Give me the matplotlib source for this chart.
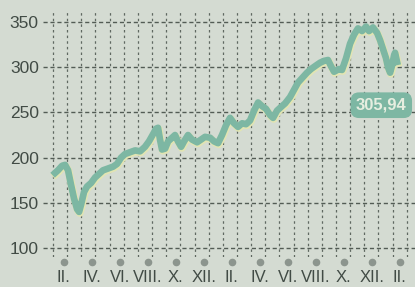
import matplotlib.pyplot as plt

# month index (0 = first gridline) and index value
months = [0.14, 0.35, 0.64, 0.85, 1.06, 1.27, 1.48, 1.70, 1.84, 1.98,
          2.19, 2.40, 2.69, 2.97, 3.25, 3.53, 3.89, 4.24, 4.52, 4.81,
          5.09, 5.44, 5.80, 6.15, 6.50, 6.78, 7.07, 7.28, 7.42, 7.56,
          7.70, 7.92, 8.13, 8.41, 8.62, 8.83, 9.05, 9.26, 9.54, 9.82,
          10.18, 10.46, 10.74, 11.10, 11.38, 11.66, 11.94, 12.23, 12.51, 12.79,
          13.07, 13.36, 13.64, 13.92, 14.21, 14.49, 14.77, 15.05, 15.34, 15.55,
          15.83, 16.11, 16.40, 16.75, 17.03, 17.31, 17.60, 17.95, 18.23, 18.59,
          18.87, 19.15, 19.43, 19.65, 19.86, 20.21, 20.42, 20.71, 20.99, 21.27,
          21.55, 21.84, 22.12, 22.33, 22.61, 22.90, 23.11, 23.32, 23.53, 23.67,
          23.82, 23.96, 24.10, 24.17, 24.31]
values = [183, 186, 191, 192, 186, 170, 155, 143, 140, 148,
          162, 168, 172, 178, 182, 186, 188, 190, 193, 200,
          204, 206, 208, 207, 212, 218, 226, 232, 233, 220,
          209, 210, 218, 222, 225, 218, 212, 218, 225, 220,
          217, 220, 223, 222, 218, 216, 225, 236, 244, 238,
          234, 238, 237, 241, 252, 261, 257, 254, 247, 244,
          252, 256, 260, 267, 275, 283, 288, 294, 298, 302,
          305, 307, 308, 301, 295, 298, 297, 310, 326, 336,
          343, 340, 345, 340, 344, 338, 330, 320, 310, 300,
          294, 302, 313, 316, 306]

last_value = "305,94"
yticks = [100, 150, 200, 250, 300, 350]
month_labels = ["II.", "IV.", "VI.", "VIII.", "X.", "XII.",
                "II.", "IV.", "VI.", "VIII.", "X.", "XII.", "II."]
label_pos = [0.75 + 1.98 * i for i in range(len(month_labels))]

font = "Liberation Sans"
paper = "#d4dbd2"
ink = "#414b45"
teal = "#7db7a3"

fig = plt.figure(figsize=(4.15, 2.87), dpi=100, facecolor=paper)
ax = fig.add_axes([43 / 415, 30 / 287, 372 / 415, 245 / 287])
ax.set_facecolor(paper)
ax.set_xlim(-0.71, 25.58)
ax.set_ylim(90.1, 361.1)
for s in ax.spines.values():
    s.set_visible(False)

# grid: horizontal at value ticks, vertical at every month
ax.set_yticks(yticks)
ax.set_xticks(range(26), minor=True)
ax.set_xticks(label_pos)
ax.set_xticklabels(month_labels)
ax.grid(True, axis="y", which="major", color="#535c55", linestyle=(0, (3, 2)), linewidth=1)
ax.grid(True, axis="x", which="minor", color="#5f6861", linestyle=(0, (2, 2.5)), linewidth=0.9)
ax.tick_params(axis="both", which="both", length=0)
ax.tick_params(axis="y", pad=3, labelsize=12.5, labelcolor=ink)
ax.tick_params(axis="x", pad=9, labelsize=12, labelcolor=ink)
for lab in ax.get_xticklabels() + ax.get_yticklabels():
    lab.set_fontfamily(font)

# grey dots above month labels
ax.scatter(label_pos, [-0.022] * len(label_pos), s=20, color="#8c958e",
           transform=ax.get_xaxis_transform(), clip_on=False, zorder=3)

# line with a pale yellow halo
ax.plot([m + 0.05 for m in months], [v - 1.3 for v in values], color="#e2e5b2",
        linewidth=5.5, solid_joinstyle="round", zorder=4)
ax.plot(months, values, color=teal, linewidth=4.8, solid_joinstyle="round", zorder=5)

ax.text(23.2, 258, last_value, ha="center", va="center", fontsize=12,
        fontweight="bold", color="#e6eee0", family=font, zorder=6,
        bbox=dict(boxstyle="round,pad=0.32,rounding_size=0.5", fc=teal, ec="none"))

fig.savefig("out.png", dpi=100, facecolor=paper)
